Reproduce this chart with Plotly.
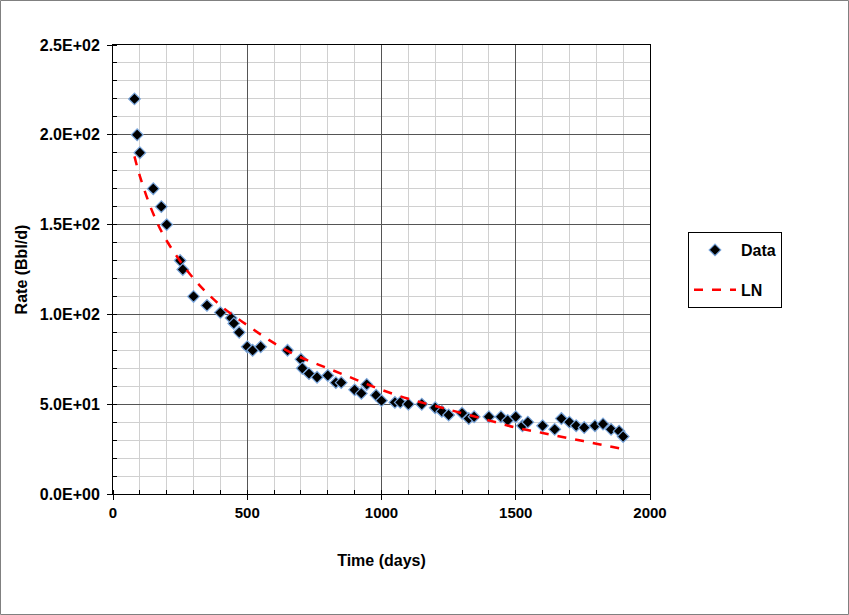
import plotly.graph_objects as go

# Data
time_days = [80, 90, 100, 150, 180, 200, 250, 260, 300, 350, 400, 440, 450, 470, 500, 520, 550,
             650, 700, 705, 730, 760, 800, 830, 850, 900, 925, 945, 980, 1000, 1050, 1070, 1100,
             1150, 1200, 1225, 1250, 1300, 1325, 1345, 1400, 1445, 1470, 1500, 1525, 1545, 1600,
             1645, 1670, 1700, 1725, 1755, 1795, 1825, 1855, 1885, 1900]
rate_bbl = [220, 200, 190, 170, 160, 150, 130, 125, 110, 105, 101, 98, 95, 90, 82, 80, 82,
            80, 75, 70, 67, 65, 66, 62, 62, 58, 56, 61, 55, 52, 51, 51, 50,
            50, 48, 46, 44, 45, 42, 43, 43, 43, 41, 43, 38, 40, 38,
            36, 42, 40, 38, 37, 38, 39, 36, 35, 32]

ln_time = [80, 100, 150, 200, 300, 400, 500, 600, 700, 800, 900, 1000, 1100, 1200, 1300,
           1400, 1500, 1600, 1700, 1800, 1900]
ln_rate = [188, 177, 156, 141, 120, 105, 94, 84, 76, 70, 64, 58, 53, 49, 45,
           41, 37, 34, 31, 28, 25]

y_tickvals = [0, 50, 100, 150, 200, 250]
y_ticktext = ["0.0E+00", "5.0E+01", "1.0E+02", "1.5E+02", "2.0E+02", "2.5E+02"]
x_tickvals = [0, 500, 1000, 1500, 2000]
x_ticktext = ["0", "500", "1000", "1500", "2000"]

FONT = "Arial, 'Liberation Sans', sans-serif"

fig = go.Figure()
fig.add_trace(go.Scatter(
    x=time_days, y=rate_bbl, mode="markers", name="<b>Data</b>",
    legendgroup="a",
    marker=dict(symbol="diamond", size=9, color="black",
                line=dict(color="#7aa6dc", width=1.2)),
))
fig.add_trace(go.Scatter(
    x=ln_time, y=ln_rate, mode="lines", name="<b>LN</b>",
    legendgroup="b", line_shape="spline",
    line=dict(color="#ff0000", width=2.5, dash="dash"),
))

W, H = 849, 615
L, R, T, B = 113, 199, 45, 121
pw, ph = W - L - R, H - T - B

fig.update_layout(
    width=W, height=H,
    margin=dict(l=L, r=R, t=T, b=B),
    paper_bgcolor="white", plot_bgcolor="white",
    font=dict(family=FONT, size=15, color="black"),
    showlegend=True,
    legend=dict(
        x=(688 - L) / pw, y=(494 - 232) / ph, xanchor="left", yanchor="top",
        bordercolor="black", borderwidth=1, bgcolor="white",
        font=dict(family=FONT, size=16, color="black"),
        tracegroupgap=16, itemwidth=42,
    ),
    shapes=[dict(
        type="rect", xref="paper", yref="paper",
        x0=-(L - 0.5) / pw, x1=1 + (R - 0.5) / pw,
        y0=-(B - 0.5) / ph, y1=1 + (T - 0.5) / ph,
        line=dict(color="#808080", width=1), fillcolor="rgba(0,0,0,0)", layer="below",
    )],
)

x_labels = ["<b>" + t + "</b>" for t in x_ticktext]
y_labels = ["<b>" + t + "</b>" for t in y_ticktext]

fig.update_xaxes(
    range=[0, 2000], tickvals=x_tickvals, ticktext=x_labels,
    tickfont=dict(family=FONT, size=15, color="black"),
    title=dict(text="<b>Time (days)</b>", font=dict(family=FONT, size=16), standoff=34),
    showline=True, linecolor="black", linewidth=1, mirror=True,
    ticks="outside", ticklen=5, tickcolor="black",
    showgrid=True, gridcolor="#555555", gridwidth=1,
    minor=dict(dtick=100, showgrid=True, gridcolor="#d0d0d0", gridwidth=1,
               ticks="inside", ticklen=4, tickcolor="black"),
    zeroline=False,
)
fig.update_yaxes(
    range=[0, 250], tickvals=y_tickvals, ticktext=y_labels,
    tickfont=dict(family=FONT, size=16, color="black"),
    ticklabelstandoff=4,
    title=dict(text="<b>Rate (Bbl/d)</b>", font=dict(family=FONT, size=16), standoff=8),
    showline=True, linecolor="black", linewidth=1, mirror=True,
    ticks="outside", ticklen=5, tickcolor="black",
    showgrid=True, gridcolor="#555555", gridwidth=1,
    minor=dict(dtick=10, showgrid=True, gridcolor="#d0d0d0", gridwidth=1,
               ticks="inside", ticklen=4, tickcolor="black"),
    zeroline=False,
)

fig.write_html("out.html")
